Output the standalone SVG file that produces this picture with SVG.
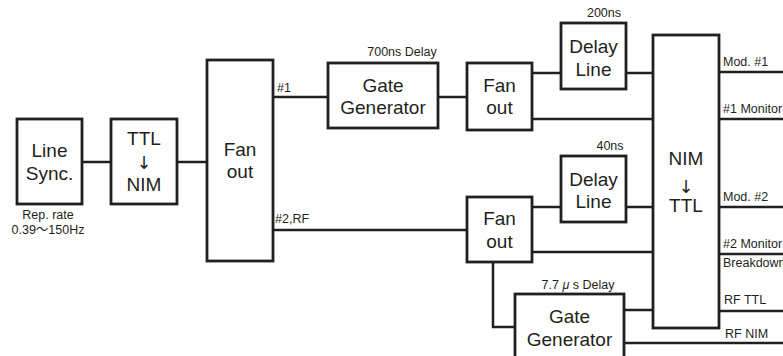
<svg xmlns="http://www.w3.org/2000/svg" width="783" height="356" viewBox="0 0 783 356">
<style>
.box{fill:#fff;stroke:#231f20;stroke-width:2.8}
.ln{fill:none;stroke:#231f20;stroke-width:2.5}
.t{font-family:"Liberation Sans","Noto Sans CJK JP",sans-serif;font-size:19px;fill:#231f20;text-anchor:middle}
.a{font-family:"DejaVu Sans",sans-serif;font-size:18px;fill:#231f20;text-anchor:middle}
.s{font-family:"Liberation Sans","Noto Sans CJK JP",sans-serif;font-size:12.5px;fill:#231f20}
.c{text-anchor:middle}
</style>
<rect width="783" height="356" fill="#fff"/>
<g id="connectors">
<path class="ln" d="M82 162H111M177 162H207"/>
<path class="ln" d="M273 97H328M438 97H467"/>
<path class="ln" d="M532 73H561M626 73H653M532 119H653"/>
<path class="ln" d="M273 230H467"/>
<path class="ln" d="M532 207H561M626 207H653M532 252H653"/>
<path class="ln" d="M493 262V327H515M624 310H653"/>
<path class="ln" d="M719 72H783M719 119H783M719 207H783M719 254H783M719 311H783M624 343H783"/>
</g>
<g id="line-sync">
<rect class="box" x="17" y="119" width="65" height="85"/>
<text class="t" x="49.5" y="157">Line</text>
<text class="t" x="49.5" y="180">Sync.</text>
<text class="s c" x="48" y="219">Rep. rate</text>
<text class="s c" x="48" y="234">0.39〜150Hz</text>
</g>
<g id="ttl-nim">
<rect class="box" x="111" y="119" width="66" height="85"/>
<text class="t" x="144" y="145">TTL</text>
<text class="a" x="144" y="169">↓</text>
<text class="t" x="144" y="191">NIM</text>
</g>
<g id="fanout-main">
<rect class="box" x="207" y="60" width="66" height="201"/>
<text class="t" x="240" y="156">Fan</text>
<text class="t" x="240" y="178">out</text>
<text class="s" x="277" y="92">#1</text>
<text class="s" x="275" y="223">#2,RF</text>
</g>
<g id="gate-gen-1">
<rect class="box" x="328" y="63" width="110" height="65"/>
<text class="t" x="383" y="92">Gate</text>
<text class="t" x="383" y="114">Generator</text>
<text class="s c" x="402" y="56">700ns Delay</text>
</g>
<g id="fanout-1">
<rect class="box" x="467" y="63" width="65" height="67"/>
<text class="t" x="499.5" y="92">Fan</text>
<text class="t" x="499.5" y="114">out</text>
</g>
<g id="delay-1">
<rect class="box" x="561" y="23" width="65" height="66"/>
<text class="t" x="593.5" y="53">Delay</text>
<text class="t" x="593.5" y="76">Line</text>
<text class="s c" x="604" y="17">200ns</text>
</g>
<g id="fanout-2">
<rect class="box" x="467" y="197" width="65" height="65"/>
<text class="t" x="499.5" y="225">Fan</text>
<text class="t" x="499.5" y="248">out</text>
</g>
<g id="delay-2">
<rect class="box" x="561" y="156" width="65" height="66"/>
<text class="t" x="593.5" y="186">Delay</text>
<text class="t" x="593.5" y="208">Line</text>
<text class="s c" x="610" y="150">40ns</text>
</g>
<g id="gate-gen-2">
<rect class="box" x="515" y="294" width="109" height="70"/>
<text class="t" x="569.5" y="323">Gate</text>
<text class="t" x="569.5" y="346">Generator</text>
<text class="s c" x="578" y="289">7.7 <tspan font-style="italic">μ</tspan> s Delay</text>
</g>
<g id="nim-ttl">
<rect class="box" x="653" y="35" width="66" height="293"/>
<text class="t" x="686" y="165">NIM</text>
<text class="a" x="686" y="193">↓</text>
<text class="t" x="686" y="212">TTL</text>
</g>
<g id="outputs">
<text class="s" x="723" y="66">Mod. #1</text>
<text class="s" x="723" y="113">#1 Monitor</text>
<text class="s" x="723" y="201">Mod. #2</text>
<text class="s" x="723" y="248">#2 Monitor</text>
<text class="s" x="723" y="267">Breakdown</text>
<text class="s" x="724" y="304">RF TTL</text>
<text class="s" x="725" y="338">RF NIM</text>
</g>
</svg>
